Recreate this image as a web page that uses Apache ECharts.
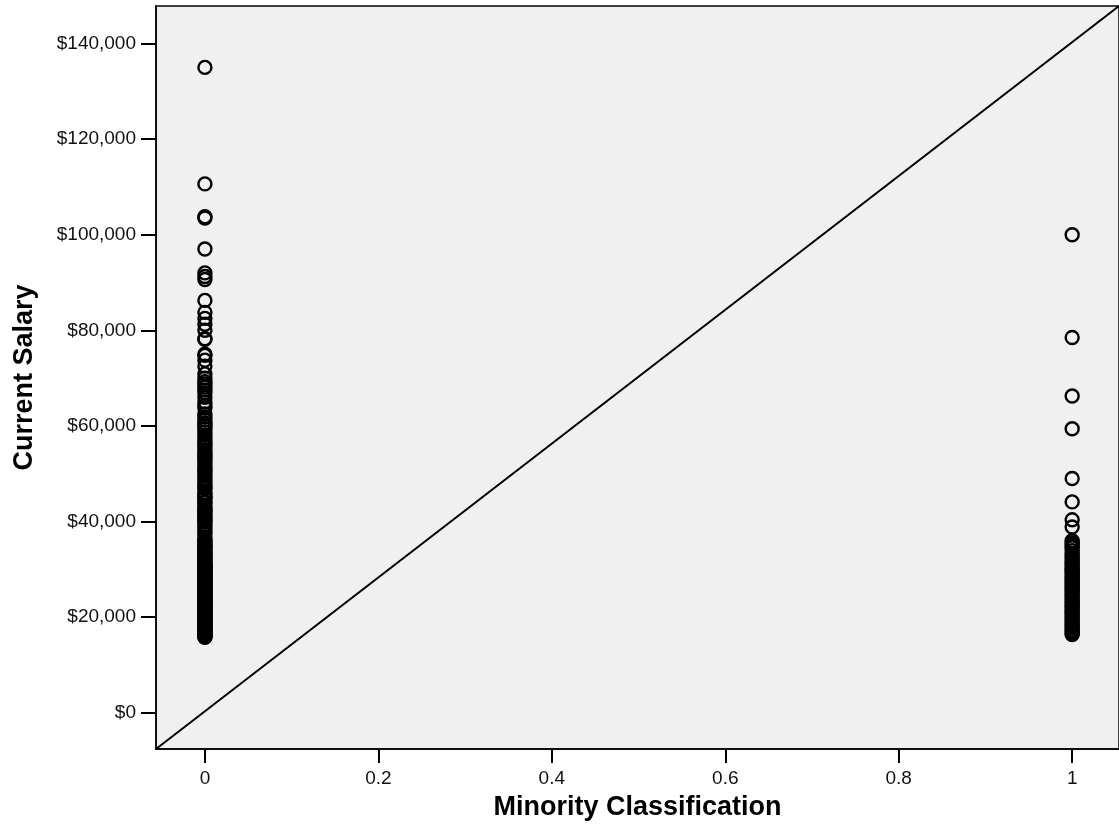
<!DOCTYPE html>
<html>
<head>
<meta charset="utf-8">
<script src="https://cdn.jsdelivr.net/npm/echarts@6/dist/echarts.min.js"></script>
<style>
html,body{margin:0;padding:0;background:#fff;}
#chart{width:1119px;height:832px;}
</style>
</head>
<body>
<div id="chart"></div>
<script>
// Minority Classification groups (x value) and Current Salary values (y)
const groupValues = [0, 1];
const salaryMinority0 = [
  135000, 110625, 103750, 103500, 97000, 92000, 91250, 90625, 86250, 83750,
  82500, 81250, 80000, 78250, 78125, 75000, 74750, 73750, 72500, 70875,
  70000, 69250, 68750, 68125, 67500, 66875, 66000, 65000, 64250, 63750, 62500,
  61875, 61250, 60625, 60375, 60000, 59400, 58750, 58125, 57500, 57000, 56550,
  56100, 55750, 55000, 54375, 54000, 53625, 53125, 52650, 52125, 51450, 51000, 50550, 50000,
  49500, 49000, 48500, 48000, 47550, 47100, 46875, 46000, 45625, 45250, 45000, 44875, 44100,
  43950, 43410, 43000, 42480, 42300, 42000, 41550, 41100, 40800, 40350,
  40200, 39900, 39300, 38850, 38400, 37800, 37500, 36750, 36150, 36000,
  35550, 35250, 35100, 34800, 34500, 34410, 33900, 33750, 33540, 33300,
  33000, 32850, 32550, 32400, 32100, 31950, 31650, 31350, 31200, 31050,
  30900, 30750, 30600, 30450, 30300, 30150, 30000, 29850, 29700, 29550,
  29400, 29250, 29100, 28950, 28800, 28500, 28350, 28200, 28050, 27900,
  27750, 27600, 27450, 27300, 27150, 27000, 26850, 26700, 26550, 26400,
  26250, 26100, 25950, 25800, 25650, 25500, 25350, 25200, 25050, 24900,
  24750, 24600, 24450, 24300, 24150, 24000, 23850, 23700, 23550, 23400,
  23250, 23100, 22950, 22800, 22650, 22500, 22350, 22200, 22050, 21900,
  21750, 21600, 21450, 21300, 21150, 21000, 20850, 20700, 20550, 20400,
  20250, 20100, 19950, 19800, 19650, 19500, 19350, 19200, 19050, 18900,
  18750, 18600, 18450, 18300, 18150, 18000, 17850, 17700, 17400, 17250,
  17100, 16950, 16800, 16650, 16500, 16350, 16200, 16050, 15900, 15750
];
const salaryMinority1 = [
  100000, 78500, 66250, 59400, 49000, 44100, 40350, 38850, 36000, 35550,
  35250, 34800, 34500, 33900, 33300, 32850, 32400, 31950, 31500, 31200,
  30750, 30300, 30000, 29700, 29250, 28950, 28500, 28200, 27750, 27450,
  27000, 26700, 26250, 25950, 25500, 25200, 24750, 24450, 24000, 23700,
  23250, 22950, 22500, 22200, 21750, 21450, 21000, 20700, 20250, 19950,
  19500, 19200, 18750, 18450, 18000, 17700, 17250, 16950, 16500, 16350
];
const xTickValues = [0, 0.2, 0.4, 0.6, 0.8, 1];
const yTickValues = [0, 20000, 40000, 60000, 80000, 100000, 120000, 140000];
const xRange = [-0.0564, 1.054];
const yRange = [-7594, 147840];

const points = [];
salaryMinority0.forEach(v => points.push([groupValues[0], v]));
salaryMinority1.forEach(v => points.push([groupValues[1], v]));

const FONT = "'Liberation Sans', Arial, sans-serif";
const chart = echarts.init(document.getElementById('chart'), null, {renderer: 'canvas'});
chart.setOption({
  animation: false,
  backgroundColor: '#ffffff',
  grid: {
    left: 156, top: 6, right: -2, bottom: 83,
    show: true, backgroundColor: '#f0f0f0', borderColor: '#000', borderWidth: 1.5
  },
  xAxis: {
    type: 'value', min: xRange[0], max: xRange[1],
    name: 'Minority Classification', nameLocation: 'middle', nameGap: 45,
    nameTextStyle: {fontFamily: FONT, fontSize: 27, fontWeight: 'bold', color: '#000'},
    splitLine: {show: false},
    axisLine: {show: true, onZero: false, lineStyle: {color: '#000', width: 1.5}},
    axisTick: {show: true, length: 14, lineStyle: {color: '#000', width: 2}, customValues: xTickValues},
    axisLabel: {
      fontFamily: FONT, fontSize: 19, color: '#111', margin: 20,
      customValues: xTickValues,
      formatter: v => String(v)
    }
  },
  yAxis: {
    type: 'value', min: yRange[0], max: yRange[1],
    name: 'Current Salary', nameLocation: 'middle', nameGap: 118, nameRotate: 90,
    nameTextStyle: {fontFamily: FONT, fontSize: 27, fontWeight: 'bold', color: '#000'},
    splitLine: {show: false},
    axisLine: {show: true, onZero: false, lineStyle: {color: '#000', width: 1.5}},
    axisTick: {show: true, length: 15, lineStyle: {color: '#000', width: 2}, customValues: yTickValues},
    axisLabel: {
      fontFamily: FONT, fontSize: 19, color: '#111', margin: 20,
      customValues: yTickValues,
      formatter: v => '$' + Number(v).toLocaleString('en-US')
    }
  },
  series: [
    {
      type: 'line',
      data: [[xRange[0], yRange[0]], [xRange[1], yRange[1]]],
      symbol: 'none', silent: true,
      lineStyle: {color: '#000', width: 2},
      z: 1
    },
    {
      type: 'scatter',
      data: points,
      symbol: 'circle',
      symbolSize: 13,
      itemStyle: {color: 'rgba(0,0,0,0)', borderColor: '#000', borderWidth: 2.4, opacity: 1},
      z: 2
    }
  ]
});
</script>
</body>
</html>
